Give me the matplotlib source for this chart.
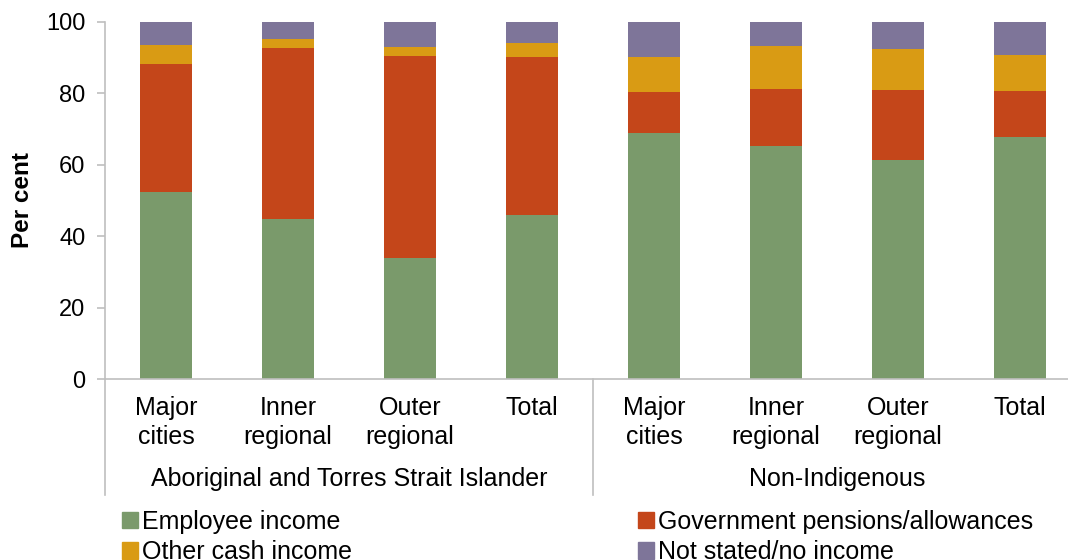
import matplotlib
matplotlib.use("Agg")
import matplotlib.pyplot as plt
from matplotlib.patches import Patch
import numpy as np

plt.rcParams['font.family'] = ['Liberation Sans', 'DejaVu Sans']

categories = ["Major\ncities", "Inner\nregional", "Outer\nregional", "Total",
              "Major\ncities", "Inner\nregional", "Outer\nregional", "Total"]
groups = ["Aboriginal and Torres Strait Islander", "Non-Indigenous"]
employee = [52.5, 44.9, 34.0, 46.0, 68.9, 65.3, 61.4, 67.9]
government = [35.6, 47.9, 56.6, 44.1, 11.5, 15.9, 19.6, 12.7]
other_cash = [5.5, 2.5, 2.5, 4.1, 9.8, 12.2, 11.4, 10.2]
not_stated = [6.4, 4.7, 6.9, 5.8, 9.8, 6.6, 7.6, 9.2]

series = [("Employee income", employee, "#7a9a6b"),
          ("Government pensions/allowances", government, "#c4461a"),
          ("Other cash income", other_cash, "#d99b14"),
          ("Not stated/no income", not_stated, "#7e7599")]

W, H = 1068, 560
fig = plt.figure(figsize=(W / 100, H / 100), dpi=100)
left, right, top, bottom = 105, 1081, 22, 379
ax = fig.add_axes([left / W, 1 - bottom / H, (right - left) / W, (bottom - top) / H])

x = np.arange(len(categories))
base = np.zeros(len(categories))
for name, vals, col in series:
    ax.bar(x, vals, bottom=base, width=0.42, color=col, label=name, zorder=2)
    base += np.array(vals)

FS = 18
ax.set_xlim(-0.5, len(categories) - 0.5)
ax.set_ylim(0, 100)
ax.set_yticks([0, 20, 40, 60, 80, 100])
ax.tick_params(axis='y', labelsize=17, length=6, color='#bfbfbf', width=1.2, pad=8)
ax.set_xticks([])
for s in ['top', 'right']:
    ax.spines[s].set_visible(False)
for s in ['left', 'bottom']:
    ax.spines[s].set_color('#bfbfbf')
    ax.spines[s].set_linewidth(1.2)
ax.set_ylabel("Per cent", fontsize=17.5, fontweight='bold', labelpad=9)

tr = ax.get_xaxis_transform()
ah = bottom - top
for xi, lab in zip(x, categories):
    ax.text(xi, -(396 - bottom) / ah, lab, transform=tr, ha='center', va='top',
            fontsize=FS, linespacing=1.25)
for gi, g in enumerate(groups):
    ax.text(gi * 4 + 1.5, -(479 - bottom) / ah, g, transform=tr, ha='center',
            va='center', fontsize=FS)
for xs in [-0.5, 3.5]:
    ax.plot([xs, xs], [0, -(495 - bottom) / ah], transform=tr, color='#bfbfbf',
            lw=1.2, clip_on=False)

order = [0, 2, 1, 3]
handles = [Patch(color=series[i][2], label=series[i][0]) for i in order]
fig.legend(handles=handles, ncol=2, loc='upper left',
           bbox_to_anchor=(122 / W, 1 - 510 / H), frameon=False, fontsize=FS,
           handlelength=0.64, handleheight=0.64, handletextpad=0.15,
           columnspacing=11.45, labelspacing=0.25, borderaxespad=0, borderpad=0)

fig.savefig("out.png", dpi=100)
